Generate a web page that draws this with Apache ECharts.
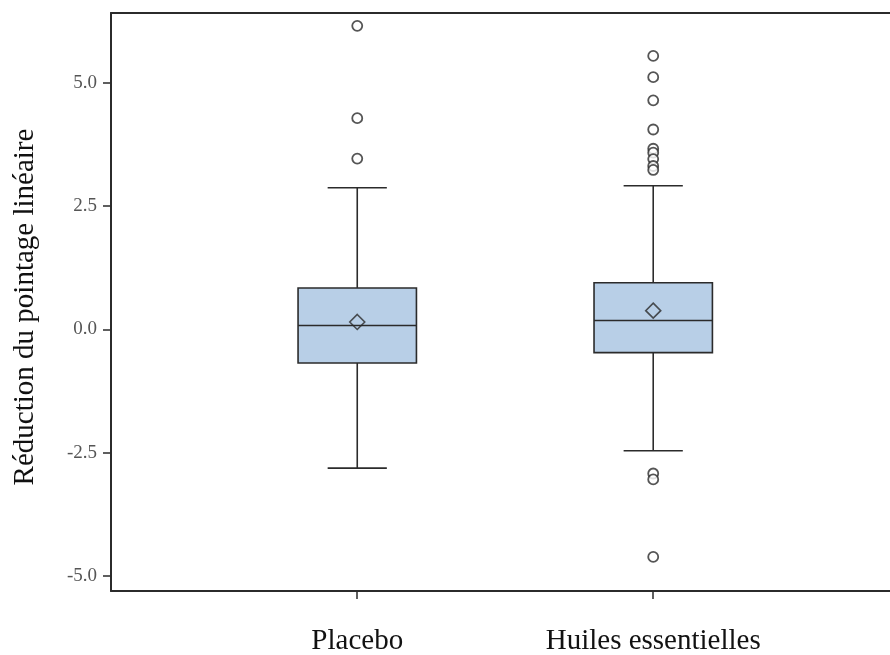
<!DOCTYPE html>
<html>
<head>
<meta charset="utf-8">
<script src="https://cdn.jsdelivr.net/npm/echarts@6/dist/echarts.min.js"></script>
<style>
  html, body { margin: 0; padding: 0; background: #fff; }
  #chart { width: 890px; height: 655px; }
</style>
</head>
<body>
<div id="chart"></div>
<script>
// Groups shown along the horizontal axis
const categories = ['Placebo', 'Huiles essentielles'];

// Five-number summaries: [lower whisker, Q1, median, Q3, upper whisker]
const boxStats = [
  [-2.81, -0.68, 0.08, 0.84, 2.87],
  [-2.46, -0.47, 0.18, 0.945, 2.91]
];

// Group means (drawn as diamonds)
const means = [0.15, 0.38];

// Outlying observations per group
const outliersPlacebo = [6.15, 4.28, 3.46];
const outliersHuiles = [5.54, 5.11, 4.64, 4.05, 3.66, 3.58, 3.45, 3.31, 3.23, -2.92, -3.04, -4.61];

// Tick values on the vertical axis
const yTicks = [-5.0, -2.5, 0.0, 2.5, 5.0];

const serif = '"Liberation Serif", "DejaVu Serif", serif';
const lineCol = '#2b2b2b';
const boxFill = '#b8cfe7';

const boxData = boxStats.map((s, i) => [i].concat(s));
const meanData = means.map((m, i) => [i, m]);
const outlierData = []
  .concat(outliersPlacebo.map(v => [0, v]))
  .concat(outliersHuiles.map(v => [1, v]));

const BOX_W = 0.4;   // box width in axis units
const CAP_W = 0.2;   // whisker cap width in axis units

function renderBox(params, api) {
  const x = api.value(0);
  const lo = api.value(1), q1 = api.value(2), med = api.value(3), q3 = api.value(4), hi = api.value(5);
  const pLo = api.coord([x, lo]);
  const pQ1 = api.coord([x, q1]);
  const pMed = api.coord([x, med]);
  const pQ3 = api.coord([x, q3]);
  const pHi = api.coord([x, hi]);
  const unit = api.size([1, 0])[0];
  const bw = unit * BOX_W / 2;
  const cw = unit * CAP_W / 2;
  const cx = pQ1[0];
  const line = { stroke: lineCol, lineWidth: 1.6 };
  return {
    type: 'group',
    children: [
      { type: 'line', shape: { x1: cx, y1: pHi[1], x2: cx, y2: pQ3[1] }, style: line },
      { type: 'line', shape: { x1: cx, y1: pQ1[1], x2: cx, y2: pLo[1] }, style: line },
      { type: 'line', shape: { x1: cx - cw, y1: pHi[1], x2: cx + cw, y2: pHi[1] }, style: line },
      { type: 'line', shape: { x1: cx - cw, y1: pLo[1], x2: cx + cw, y2: pLo[1] }, style: line },
      { type: 'rect', shape: { x: cx - bw, y: pQ3[1], width: bw * 2, height: pQ1[1] - pQ3[1] },
        style: { fill: boxFill, stroke: lineCol, lineWidth: 1.6 } },
      { type: 'line', shape: { x1: cx - bw, y1: pMed[1], x2: cx + bw, y2: pMed[1] }, style: line }
    ]
  };
}

const xMin = -0.832, xMax = 1.80;
const yMin = -5.30, yMax = 6.41;

const chart = echarts.init(document.getElementById('chart'), null, { renderer: 'canvas' });
chart.setOption({
  animation: false,
  backgroundColor: '#fff',
  grid: { left: 111, top: 13, right: 0, bottom: 64, outerBoundsMode: 'none', containLabel: false },
  xAxis: [
    {
      type: 'value', min: xMin, max: xMax, position: 'bottom',
      splitLine: { show: false },
      axisLine: { show: true, onZero: false, lineStyle: { color: lineCol, width: 2 } },
      axisTick: { show: true, customValues: [0, 1], length: 8, inside: false, lineStyle: { color: lineCol, width: 1.5 } },
      axisLabel: {
        customValues: [0, 1], margin: 36,
        formatter: v => categories[Math.round(v)] || '',
        fontFamily: serif, fontSize: 29, color: '#111'
      }
    },
    {
      type: 'value', min: xMin, max: xMax, position: 'top',
      splitLine: { show: false },
      axisLine: { show: true, onZero: false, lineStyle: { color: lineCol, width: 2 } },
      axisTick: { show: false },
      axisLabel: { show: false }
    }
  ],
  yAxis: {
    type: 'value', min: yMin, max: yMax,
    name: 'Réduction du pointage linéaire',
    nameLocation: 'middle', nameGap: 71, nameRotate: 90,
    nameTextStyle: { fontFamily: serif, fontSize: 29, color: '#111', padding: [0, 10, 0, 0] },
    splitLine: { show: false },
    axisLine: { show: true, onZero: false, lineStyle: { color: lineCol, width: 2 } },
    axisTick: { show: true, customValues: yTicks, length: 8, lineStyle: { color: lineCol, width: 1.5 } },
    axisLabel: {
      customValues: yTicks, margin: 14,
      formatter: v => v.toFixed(1),
      fontFamily: serif, fontSize: 19, color: '#555'
    }
  },
  series: [
    {
      type: 'custom',
      renderItem: renderBox,
      data: boxData,
      encode: { x: 0, y: [1, 2, 3, 4, 5] },
      z: 2
    },
    {
      type: 'scatter',
      data: meanData,
      symbol: 'diamond',
      symbolSize: [15, 15],
      itemStyle: { color: 'rgba(0,0,0,0)', borderColor: lineCol, borderWidth: 1.6 },
      z: 3
    },
    {
      type: 'scatter',
      data: outlierData,
      symbol: 'circle',
      symbolSize: 10,
      itemStyle: { color: '#fff', borderColor: lineCol, borderWidth: 1.8 },
      z: 3
    }
  ]
});
</script>
</body>
</html>
